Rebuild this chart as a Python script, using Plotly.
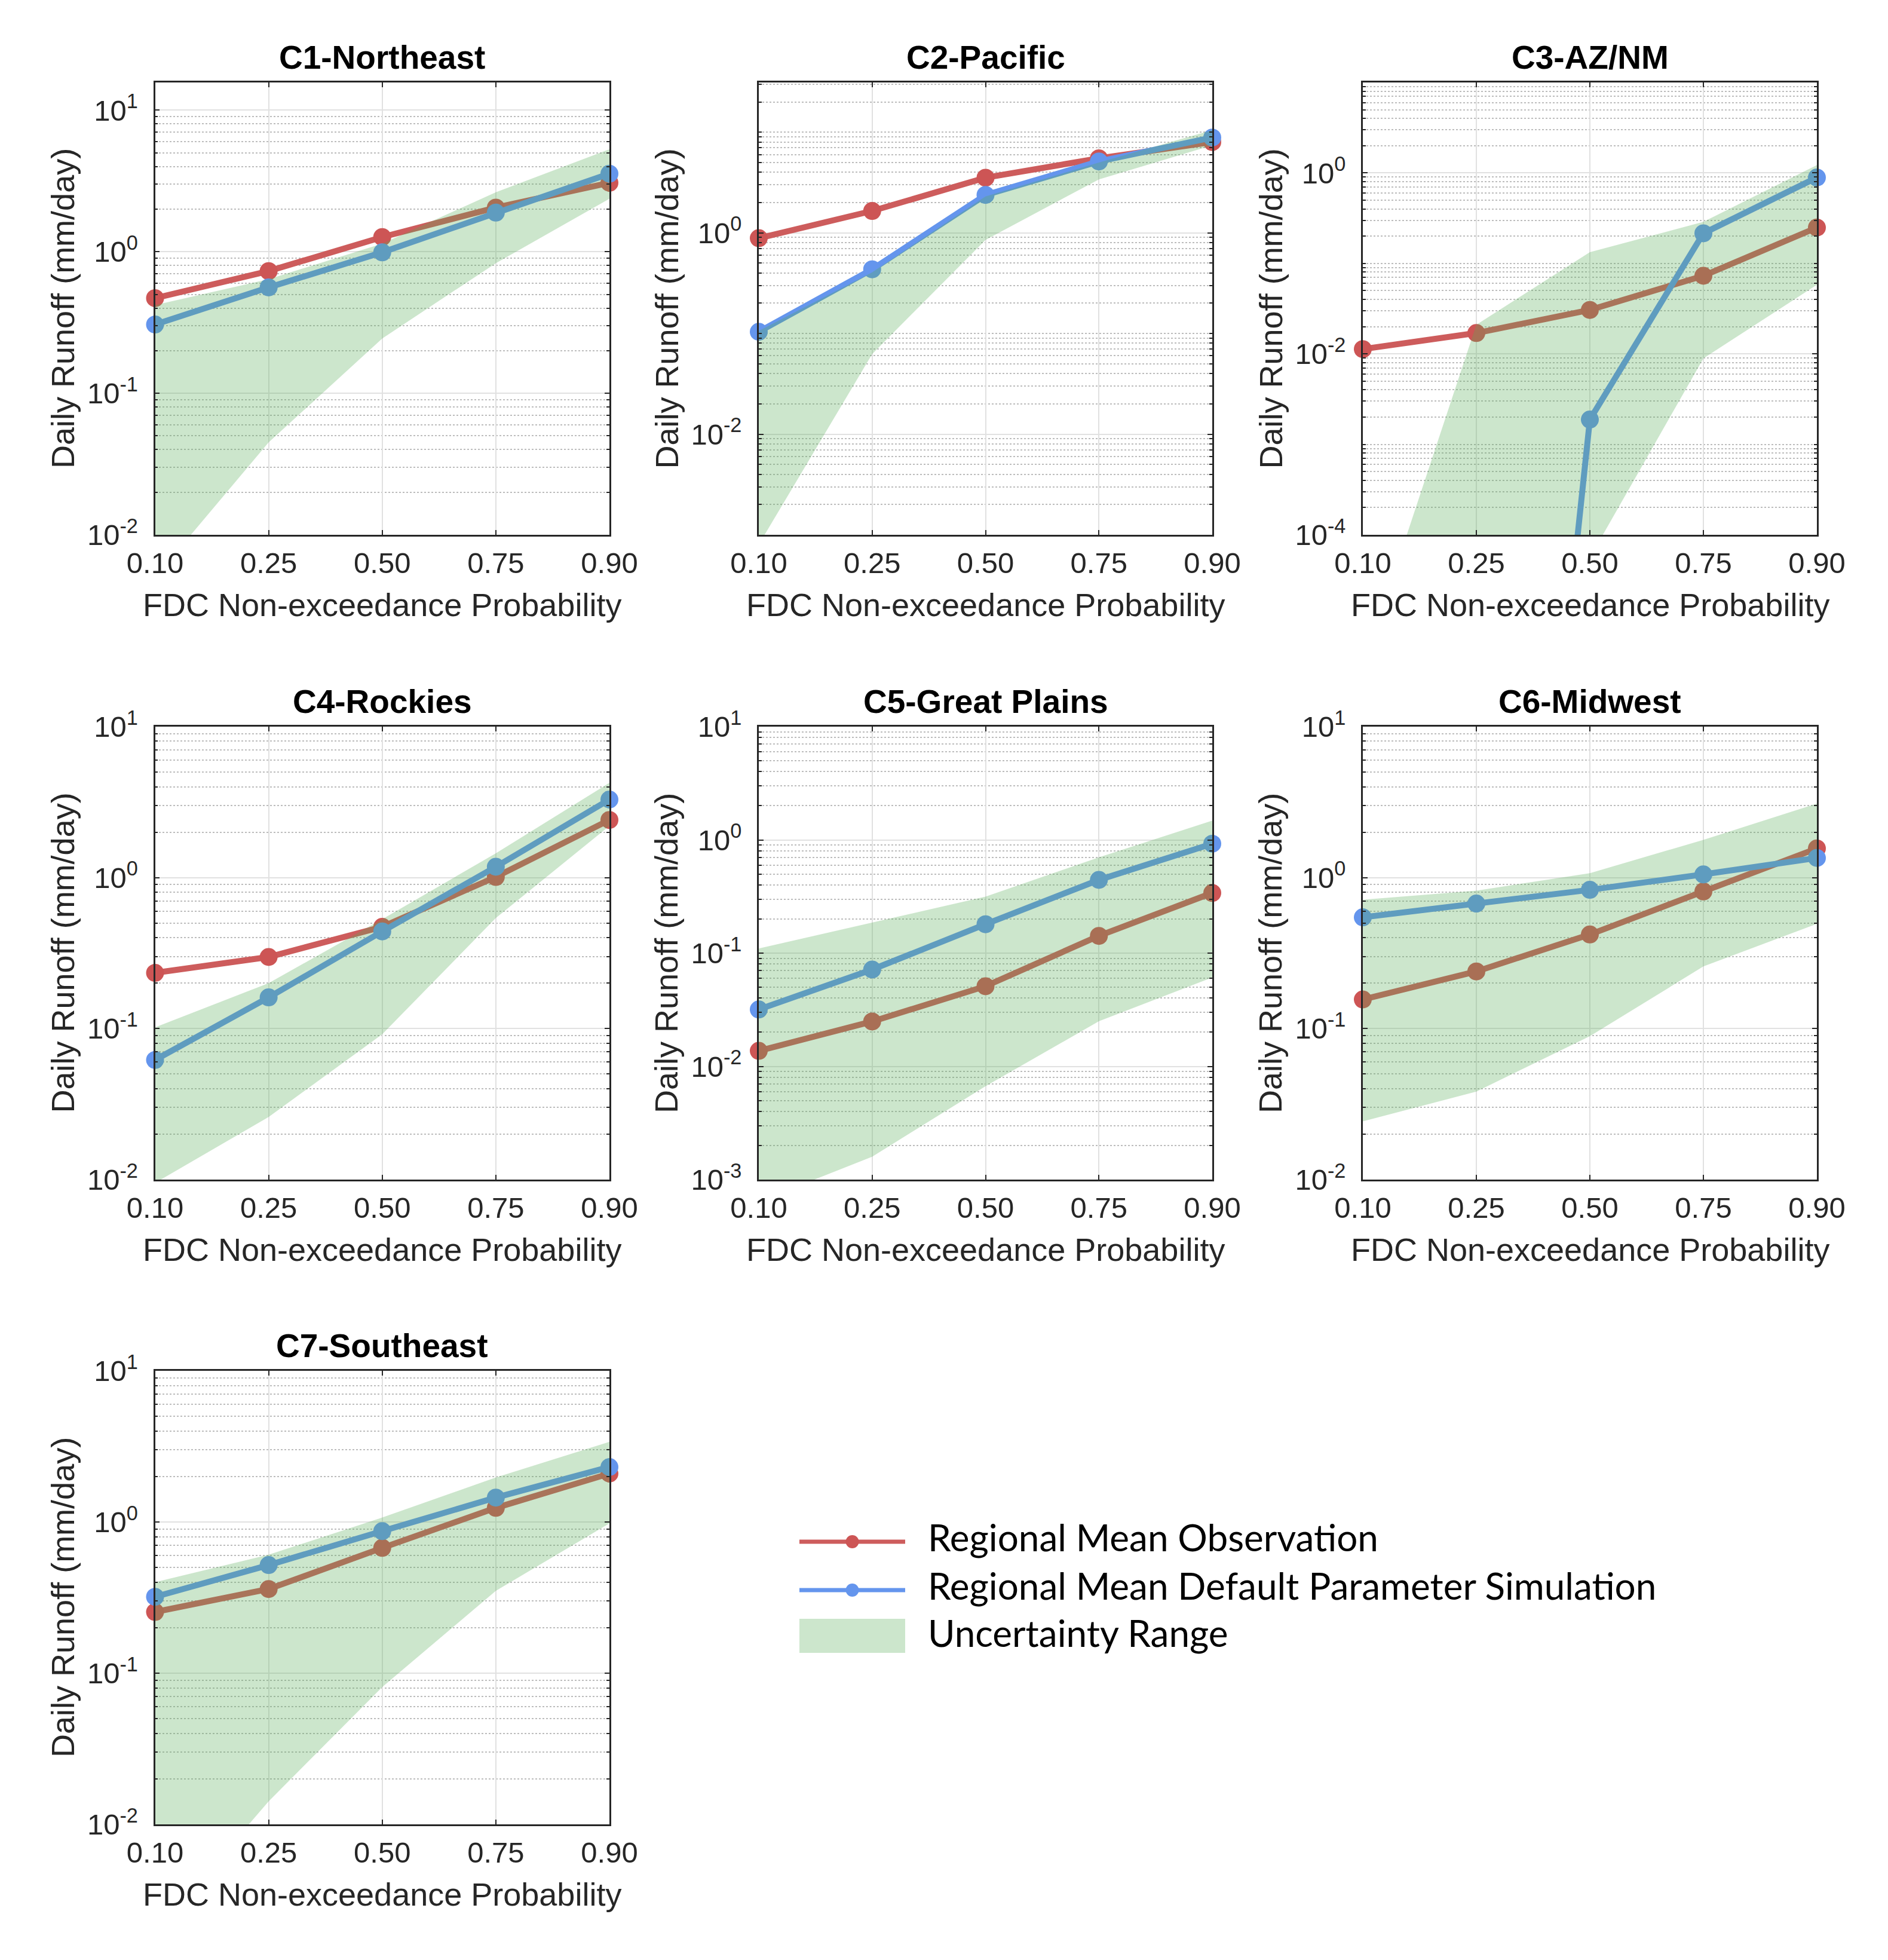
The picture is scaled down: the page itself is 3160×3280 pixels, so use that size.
import numpy as np
import plotly.graph_objects as go

# ---------------- data ----------------
prob_labels = ["0.10", "0.25", "0.50", "0.75", "0.90"]
regions = ["C1-Northeast", "C2-Pacific", "C3-AZ/NM", "C4-Rockies",
           "C5-Great Plains", "C6-Midwest", "C7-Southeast"]

obs_c1 = [0.47, 0.73, 1.27, 2.05, 3.07]
sim_c1 = [0.306, 0.56, 0.99, 1.89, 3.56]
up_c1 = [0.42, 0.64, 1.14, 2.63, 5.3]
lo_c1 = [0.005, 0.045, 0.244, 0.83, 2.37]

obs_c2 = [0.885, 1.65, 3.53, 5.5, 7.98]
sim_c2 = [0.104, 0.434, 2.38, 5.12, 8.85]
up_c2 = [0.106, 0.405, 2.3, 5.0, 10.5]
lo_c2 = [0.0008, 0.0625, 0.85, 3.4, 7.4]

obs_c3 = [0.0113, 0.017, 0.0306, 0.073, 0.249]
sim_c3 = [1e-16, 2.5e-15, 0.00188, 0.215, 0.89]
up_c3 = [3.4e-6, 0.021, 0.133, 0.288, 1.22]
lo_c3 = [1e-9, 1e-8, 5.6e-5, 0.0089, 0.058]

obs_c4 = [0.234, 0.298, 0.472, 1.01, 2.41]
sim_c4 = [0.062, 0.161, 0.44, 1.18, 3.29]
up_c4 = [0.102, 0.2, 0.53, 1.45, 4.25]
lo_c4 = [0.0095, 0.026, 0.0917, 0.54, 2.2]

obs_c5 = [0.0137, 0.0249, 0.051, 0.142, 0.34]
sim_c5 = [0.0318, 0.0716, 0.18, 0.443, 0.925]
up_c5 = [0.11, 0.187, 0.315, 0.70, 1.48]
lo_c5 = [0.00064, 0.00159, 0.00668, 0.025, 0.061]

obs_c6 = [0.156, 0.239, 0.42, 0.81, 1.56]
sim_c6 = [0.546, 0.673, 0.83, 1.05, 1.35]
up_c6 = [0.714, 0.82, 1.07, 1.78, 3.09]
lo_c6 = [0.0243, 0.0383, 0.089, 0.258, 0.494]

obs_c7 = [0.254, 0.36, 0.674, 1.24, 2.09]
sim_c7 = [0.32, 0.519, 0.87, 1.45, 2.31]
up_c7 = [0.40, 0.607, 1.07, 1.97, 3.39]
lo_c7 = [0.0019, 0.0142, 0.081, 0.35, 0.98]

obs_all = [obs_c1, obs_c2, obs_c3, obs_c4, obs_c5, obs_c6, obs_c7]
sim_all = [sim_c1, sim_c2, sim_c3, sim_c4, sim_c5, sim_c6, sim_c7]
up_all = [up_c1, up_c2, up_c3, up_c4, up_c5, up_c6, up_c7]
lo_all = [lo_c1, lo_c2, lo_c3, lo_c4, lo_c5, lo_c6, lo_c7]

# y-axis tick labels (exponents) and ranges per panel
ytick_exps = [[-2, -1, 0, 1], [-2, 0], [-4, -2, 0], [-2, -1, 0, 1],
              [-3, -2, -1, 0, 1], [-2, -1, 0, 1], [-2, -1, 0, 1]]
yranges = [[-2, 1.196], [-3, 1.494], [-4, 1], [-2, 1], [-3, 1], [-2, 1], [-2, 1]]

legend_names = ["Regional Mean Observation",
                "Regional Mean Default Parameter Simulation",
                "Uncertainty Range"]

# ---------------- style ----------------
W, H = 3160, 3280
RED_LINE = "rgb(205,92,92)"
RED_MK = "rgb(205,85,85)"
BLUE = "rgb(100,149,237)"
BAND = "rgba(85,172,85,0.3)"
TXT = "#262626"
FONT = "Liberation Sans"

col_px = [(251.5, 1012), (1262, 2021), (2273, 3033)]
row_px = [(130, 887), (1208, 1966), (2286, 3045)]
pos = [(0, 0), (0, 1), (0, 2), (1, 0), (1, 1), (1, 2), (2, 0)]


def px(x):
    return x / W


def py(y):
    return 1 - y / H


fig = go.Figure()
layout = dict(width=W, height=H,
              margin=dict(l=0, r=0, t=0, b=0, pad=0, autoexpand=False),
              paper_bgcolor="white", plot_bgcolor="white", showlegend=False)
annotations = []
shapes = []

for i, name in enumerate(regions):
    r, c = pos[i]
    x0, x1 = col_px[c]
    y0, y1 = row_px[r]
    xa = "x" if i == 0 else f"x{i+1}"
    ya = "y" if i == 0 else f"y{i+1}"
    xkey = "xaxis" if i == 0 else f"xaxis{i+1}"
    ykey = "yaxis" if i == 0 else f"yaxis{i+1}"
    lo_e, hi_e = yranges[i]

    # series lines (clipped) and markers (unclipped, only in-range points)
    for vals, lc, mc in [(obs_all[i], RED_LINE, RED_MK), (sim_all[i], BLUE, BLUE)]:
        fig.add_trace(go.Scatter(x=prob_labels, y=vals, mode="lines",
                                 line=dict(color=lc, width=10),
                                 xaxis=xa, yaxis=ya, hoverinfo="skip"))
        vis = [v if (v is not None and lo_e - 0.05 <= np.log10(v) <= hi_e + 0.05) else None
               for v in vals]
        fig.add_trace(go.Scatter(x=prob_labels, y=vis, mode="markers",
                                 marker=dict(color=mc, size=30, line=dict(width=0)),
                                 cliponaxis=False, xaxis=xa, yaxis=ya))
    # uncertainty band on top (semi-transparent)
    fig.add_trace(go.Scatter(x=prob_labels + prob_labels[::-1],
                             y=list(up_all[i]) + list(lo_all[i])[::-1],
                             mode="lines", fill="toself", fillcolor=BAND,
                             line=dict(width=0, color="rgba(0,0,0,0)"),
                             xaxis=xa, yaxis=ya, hoverinfo="skip"))

    major = [10.0 ** e for e in ytick_exps[i]]
    minor_vals = []
    for e in range(int(np.floor(lo_e)), int(np.ceil(hi_e)) + 1):
        for k in range(1, 10):
            v = k * 10.0 ** e
            if lo_e <= np.log10(v) <= hi_e and not any(abs(np.log10(v) - np.log10(m)) < 1e-9 for m in major):
                minor_vals.append(v)

    layout[xkey] = dict(domain=[px(x0), px(x1)], anchor=ya, type="category",
                        range=[0, 4], automargin=False, showline=True, linecolor=TXT,
                        linewidth=2.5, mirror="ticks", ticks="inside", ticklen=8, tickwidth=2,
                        tickcolor=TXT, showgrid=True, gridcolor="#e1e1e1", gridwidth=2,
                        zeroline=False, tickfont=dict(family=FONT, size=49, color=TXT),
                        ticklabelstandoff=2)
    layout[ykey] = dict(domain=[py(y1), py(y0)], anchor=xa, type="log",
                        range=[lo_e, hi_e], automargin=False, showline=True, linecolor=TXT,
                        linewidth=2.5, mirror="ticks", ticks="inside", ticklen=8, tickwidth=2,
                        tickcolor=TXT, showgrid=True, gridcolor="#e1e1e1", gridwidth=2,
                        zeroline=False, tickmode="array", tickvals=major,
                        ticktext=[f"10<sup>{e}</sup>" for e in ytick_exps[i]],
                        tickfont=dict(family=FONT, size=49, color=TXT),
                        ticklabelstandoff=16,
                        minor=dict(tickmode="array", tickvals=minor_vals, ticks="inside",
                                   ticklen=5, tickwidth=2, tickcolor=TXT, showgrid=True,
                                   gridcolor="#bdbdbd", griddash="dot", gridwidth=2))

    xc = (x0 + x1) / 2
    # panel title
    annotations.append(dict(text=f"<b>{name}</b>", x=px(xc), y=py(y0 - 42),
                            xref="paper", yref="paper", xanchor="center", yanchor="middle",
                            showarrow=False, font=dict(family=FONT, size=55, color="black")))
    # x-axis title
    annotations.append(dict(text="FDC Non-exceedance Probability", x=px(xc), y=py(y1 + 117),
                            xref="paper", yref="paper", xanchor="center", yanchor="middle",
                            showarrow=False, font=dict(family=FONT, size=54, color=TXT)))
    # y-axis title
    annotations.append(dict(text="Daily Runoff (mm/day)", x=px(x0 - 155), y=py((y0 + y1) / 2),
                            xref="paper", yref="paper", xanchor="center", yanchor="middle",
                            textangle=-90, showarrow=False,
                            font=dict(family=FONT, size=54, color=TXT)))

# ---------------- legend (drawn manually) ----------------
leg_x0, leg_x1 = 1330, 1507
leg_rows = [2572, 2653, 2732]
for yy, lc, mc in [(leg_rows[0], RED_LINE, RED_MK), (leg_rows[1], BLUE, BLUE)]:
    shapes.append(dict(type="line", xref="paper", yref="paper",
                       x0=px(leg_x0), x1=px(leg_x1), y0=py(yy), y1=py(yy),
                       line=dict(color=lc, width=7)))
    xm = (leg_x0 + leg_x1) / 2
    shapes.append(dict(type="circle", xref="paper", yref="paper",
                       x0=px(xm - 11), x1=px(xm + 11), y0=py(yy + 11), y1=py(yy - 11),
                       fillcolor=mc, line=dict(width=0)))
shapes.append(dict(type="rect", xref="paper", yref="paper",
                   x0=px(leg_x0), x1=px(leg_x1), y0=py(2758), y1=py(2701),
                   fillcolor=BAND, line=dict(width=0)))
for yy, txt in zip(leg_rows, legend_names):
    annotations.append(dict(text=txt, x=px(1543), y=py(yy - 8), xref="paper", yref="paper",
                            xanchor="left", yanchor="middle", showarrow=False,
                            font=dict(family="Lato", size=62, color="black")))

layout["annotations"] = annotations
layout["shapes"] = shapes
fig.update_layout(**layout)
fig.write_html("out.html")
